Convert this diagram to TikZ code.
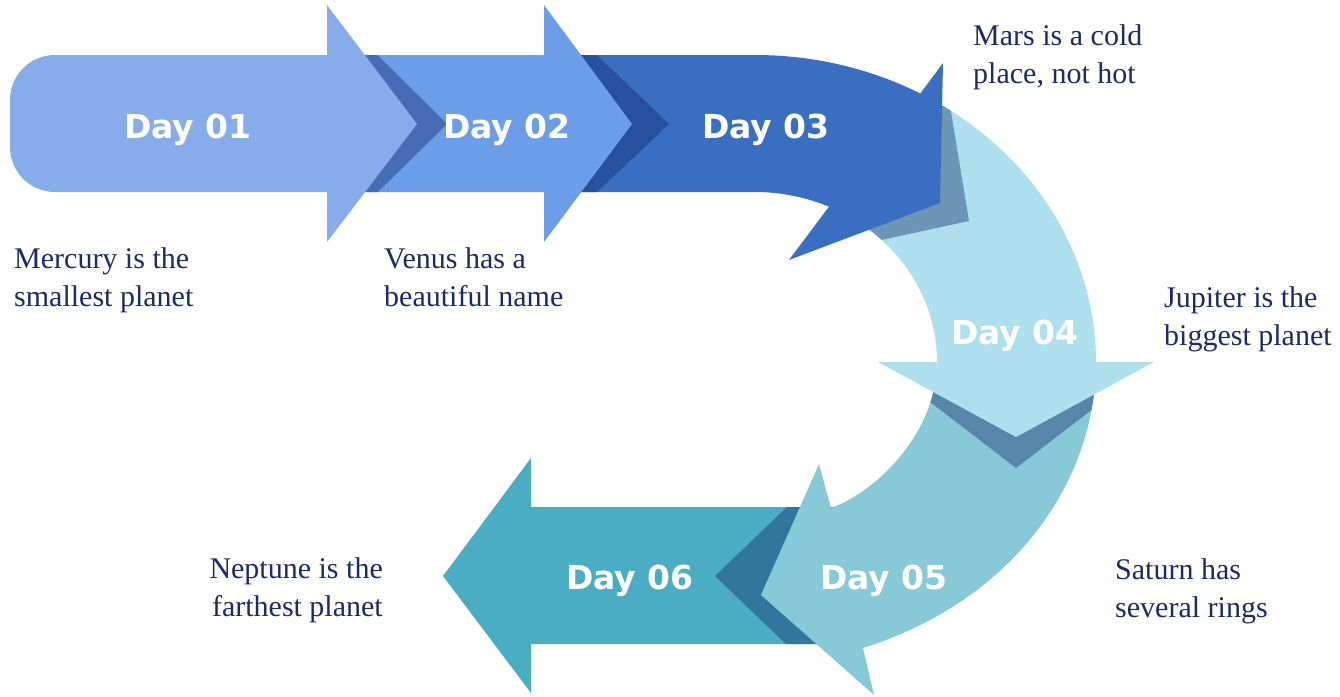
\documentclass[tikz,border=0pt]{standalone}
\usepackage{fontspec}
\setmainfont{Liberation Serif}
\newfontfamily\dayfont{DejaVu Sans}
\usetikzlibrary{calc}
\definecolor{aone}{RGB}{135,172,234}
\definecolor{atwo}{RGB}{107,157,232}
\definecolor{athree}{RGB}{58,110,192}
\definecolor{afour}{RGB}{173,224,236}
\definecolor{afive}{RGB}{136,201,215}
\definecolor{asix}{RGB}{75,173,195}
\definecolor{sone}{RGB}{69,108,181}
\definecolor{stwo}{RGB}{39,80,158}
\definecolor{sthree}{RGB}{110,149,182}
\definecolor{sfour}{RGB}{88,134,170}
\definecolor{sfive}{RGB}{51,118,155}
\definecolor{navy}{RGB}{27,42,104}
\newcommand{\PathArrowOne}{(327,55) -- (327,5) -- (417,124) -- (327,242) -- (327,192) [rounded corners=45pt] -- (10,192) -- (10,55) [sharp corners] -- cycle}
\newcommand{\PathArrowTwo}{(340,55) -- (544,55) -- (544,5) -- (632,124) -- (544,242) -- (544,192) -- (340,192) -- cycle}
\newcommand{\PathArrowThree}{(560,55) -- (755,55) arc[start angle=-90, end angle=-61, x radius=341, y radius=307] -- (943,63) -- (940,203) -- (789,260) -- ($(755,362)+(-66:182 and 170)$) arc[start angle=-66, end angle=-90, x radius=182, y radius=170] -- (560,192) -- cycle}
\newcommand{\PathArrowFour}{($(755,362)+(-61:341 and 307)$) arc[start angle=-61, end angle=0, x radius=341, y radius=307] -- (1154,362) -- (1016,437) -- (878,362) -- (937,362) arc[start angle=0, end angle=-66, x radius=182, y radius=170] -- cycle}
\newcommand{\PathArrowFive}{(1096,362) .. controls (1096,480) and (1015,600) .. (863,648) -- (874,695) -- (761,595) -- (819,464) -- (831,508) .. controls (880,490) and (937,430) .. (937,362) -- cycle}
\newcommand{\PathArrowSix}{(443,576) -- (531,458) -- (531,507) -- (850,507) -- (850,644) -- (531,644) -- (531,693) -- cycle}
\tikzset{
  daylabel/.style={text=white, font=\dayfont\bfseries\fontsize{33}{40}\selectfont, inner sep=0pt, anchor=base},
  note/.style={text=navy, font=\fontsize{30}{38}\selectfont, inner sep=0pt, align=left, anchor=base west},
  noteright/.style={note, align=right, anchor=base east}
}
\begin{document}
\begin{tikzpicture}[x=1pt, y=-1pt]
\useasboundingbox (0,0) rectangle (1340,696);
% arrow 6
\fill[asix] \PathArrowSix;
\begin{scope}
  \clip \PathArrowSix;
  \fill[sfive] (715,576) -- (860,437) -- (860,715) -- cycle;
\end{scope}
% arrow 5
\fill[afive] \PathArrowFive;
\begin{scope}
  \clip \PathArrowFive;
  \fill[sfour] (878,362) -- (1016,468) -- (1154,362) -- cycle;
\end{scope}
% arrow 4
\fill[afour] \PathArrowFour;
\begin{scope}
  \clip \PathArrowFour;
  \fill[sthree] (943,63) -- (969,221) -- (789,260) -- cycle;
\end{scope}
% arrow 3
\fill[athree] \PathArrowThree;
\begin{scope}
  \clip \PathArrowThree;
  \fill[stwo] (544,5) -- (669,124) -- (544,242) -- cycle;
\end{scope}
% arrow 2
\fill[atwo] \PathArrowTwo;
\begin{scope}
  \clip \PathArrowTwo;
  \fill[sone] (327,5) -- (447,124) -- (327,242) -- cycle;
\end{scope}
% arrow 1
\fill[aone] \PathArrowOne;
% day labels
\node[daylabel] (d1) at (188,138) {Day 01};
\node[daylabel] (d2) at (507,138) {Day 02};
\node[daylabel] (d3) at (766,138) {Day 03};
\node[daylabel] (d4) at (1015,344) {Day 04};
\node[daylabel] (d5) at (884,589) {Day 05};
\node[daylabel] (d6) at (630,589) {Day 06};
% notes (anchor = baseline of the last line)
\node[note] (n1) at (14,306) {Mercury is the\\smallest planet};
\node[note] (n2) at (384,306) {Venus has a\\beautiful name};
\node[note] (n3) at (973,83) {Mars is a cold\\place, not hot};
\node[note] (n4) at (1164,345) {Jupiter is the\\biggest planet};
\node[note] (n5) at (1115,617) {Saturn has\\several rings};
\node[noteright] (n6) at (383,616) {Neptune is the\\farthest planet};
\end{tikzpicture}
\end{document}
